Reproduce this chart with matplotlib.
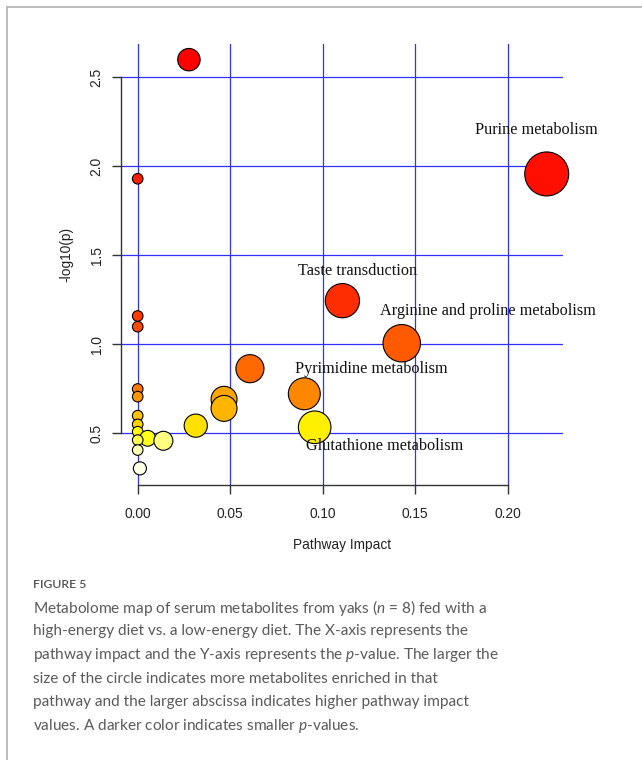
import numpy as np
import matplotlib
matplotlib.use("Agg")
import matplotlib.pyplot as plt
from matplotlib.colors import hsv_to_rgb
from matplotlib.lines import Line2D

plt.rcParams['mathtext.fontset'] = 'custom'
plt.rcParams['mathtext.rm'] = 'Lato'
plt.rcParams['mathtext.it'] = 'Lato:italic'

# pathway impact (x) and -log10(p) (y)
impact = [0.0277, 0.2212, 0.0, 0.1107, 0.0, 0.0, 0.1428, 0.0607, 0.0, 0.0901, 0.0, 0.0467,
          0.0467, 0.0, 0.0, 0.0314, 0.0957, 0.0, 0.0054, 0.0, 0.0139, 0.0, 0.0012]
logp = [2.599, 1.957, 1.930, 1.245, 1.159, 1.099, 1.006, 0.863, 0.749, 0.722, 0.706, 0.691,
        0.640, 0.599, 0.550, 0.543, 0.534, 0.509, 0.472, 0.462, 0.458, 0.406, 0.303]

# labelled pathways and where their labels sit
label_names = ["Purine metabolism", "Taste transduction", "Arginine and proline metabolism",
               "Pyrimidine metabolism", "Glutathione metabolism"]
label_x = [0.2154, 0.1190, 0.1892, 0.1261, 0.1334]
label_y = [2.204, 1.413, 1.189, 0.860, 0.430]

xticks = [0.00, 0.05, 0.10, 0.15, 0.20]
yticks = [0.5, 1.0, 1.5, 2.0, 2.5]

caption_lines = [
    "Metabolome map of serum metabolites from yaks ($n$ = 8) fed with a",
    "high-energy diet vs. a low-energy diet. The X-axis represents the",
    "pathway impact and the Y-axis represents the $p$-value. The larger the",
    "size of the circle indicates more metabolites enriched in that",
    "pathway and the larger abscissa indicates higher pathway impact",
    "values. A darker color indicates smaller $p$-values.",
]


def heat_colors(n):
    # same scheme as R's heat.colors()
    j = n // 4
    cols = [hsv_to_rgb((h, 1, 1)) for h in np.linspace(0, 1 / 6, n - j)]
    if j > 0:
        cols += [hsv_to_rgb((1 / 6, s, 1)) for s in np.linspace(1 - 1 / (2 * j), 1 / (2 * j), j)]
    return cols


W, H = 642, 760
fig = plt.figure(figsize=(W / 100, H / 100), dpi=100)
ax = fig.add_axes([121 / W, 1 - 485 / H, 442 / W, 441 / H])

x = np.array(impact)
y = np.array(logp)
order = np.argsort(-y)
x, y = x[order], y[order]
colors = heat_colors(len(y))
radius_px = 5.3 + 35.5 * np.sqrt(x)
sizes = (2 * radius_px * 0.72) ** 2

ax.scatter(x, y, s=sizes, c=colors, edgecolors='black', linewidths=0.8, zorder=3, clip_on=False)

for name, lx, ly in zip(label_names, label_x, label_y):
    ax.text(lx, ly, name, ha='center', va='center', fontsize=11.7,
            family='Liberation Serif', color='#111111', zorder=4)

ax.set_xlim(-0.00903, 0.2300)
ax.set_ylim(0.2096, 2.687)
ax.set_xticks(xticks)
ax.set_xticklabels(["%.2f" % t for t in xticks])
ax.set_yticks(yticks)
ax.set_yticklabels(["%.1f" % t for t in yticks], rotation=90, va='center')
ax.grid(True, color='#3030ff', lw=0.9)
ax.set_axisbelow(True)

for side in ['top', 'right']:
    ax.spines[side].set_visible(False)
ax.spines['left'].set_bounds(0.5, 2.5)
ax.spines['bottom'].set_bounds(0.0, 0.2)
for side in ['left', 'bottom']:
    ax.spines[side].set_color('#333333')
    ax.spines[side].set_linewidth(1.0)
ax.tick_params(axis='both', length=6.5, width=1.0, color='#333333',
               labelsize=9.9, labelcolor='#222222')
ax.tick_params(axis='x', pad=9)
ax.tick_params(axis='y', pad=6)
for lab in ax.get_xticklabels() + ax.get_yticklabels():
    lab.set_family('Liberation Sans')

ax.set_xlabel("Pathway Impact", fontsize=9.9, family='Liberation Sans', color='#222222')
ax.xaxis.set_label_coords(0.5, -(545 - 485) / 441)
ax.set_ylabel("-log10(p)", fontsize=9.9, family='Liberation Sans', color='#222222')
ax.yaxis.set_label_coords(-(121 - 66.7) / 442, (485 - 254) / 441)
ax.xaxis.label.set_va('center')
ax.yaxis.label.set_va('center')

# frame of the figure panel
fig.add_artist(Line2D([7 / W, 1], [1 - 7 / H, 1 - 7 / H], color='#b8b8b8', lw=1.3))
fig.add_artist(Line2D([7 / W, 7 / W], [0, 1 - 7 / H], color='#b8b8b8', lw=1.3))

fig.text(33 / W, 1 - 585 / H, "FIGURE 5", fontsize=8.8, family='Lato', weight='semibold',
         color='#555555', va='center')
for k, line in enumerate(caption_lines):
    fig.text(33 / W, 1 - (607.5 + 23.7 * k) / H, line, fontsize=11.1, family='Lato',
             color='#5a5a5a', va='center')

plt.savefig("out.png", dpi=100)
